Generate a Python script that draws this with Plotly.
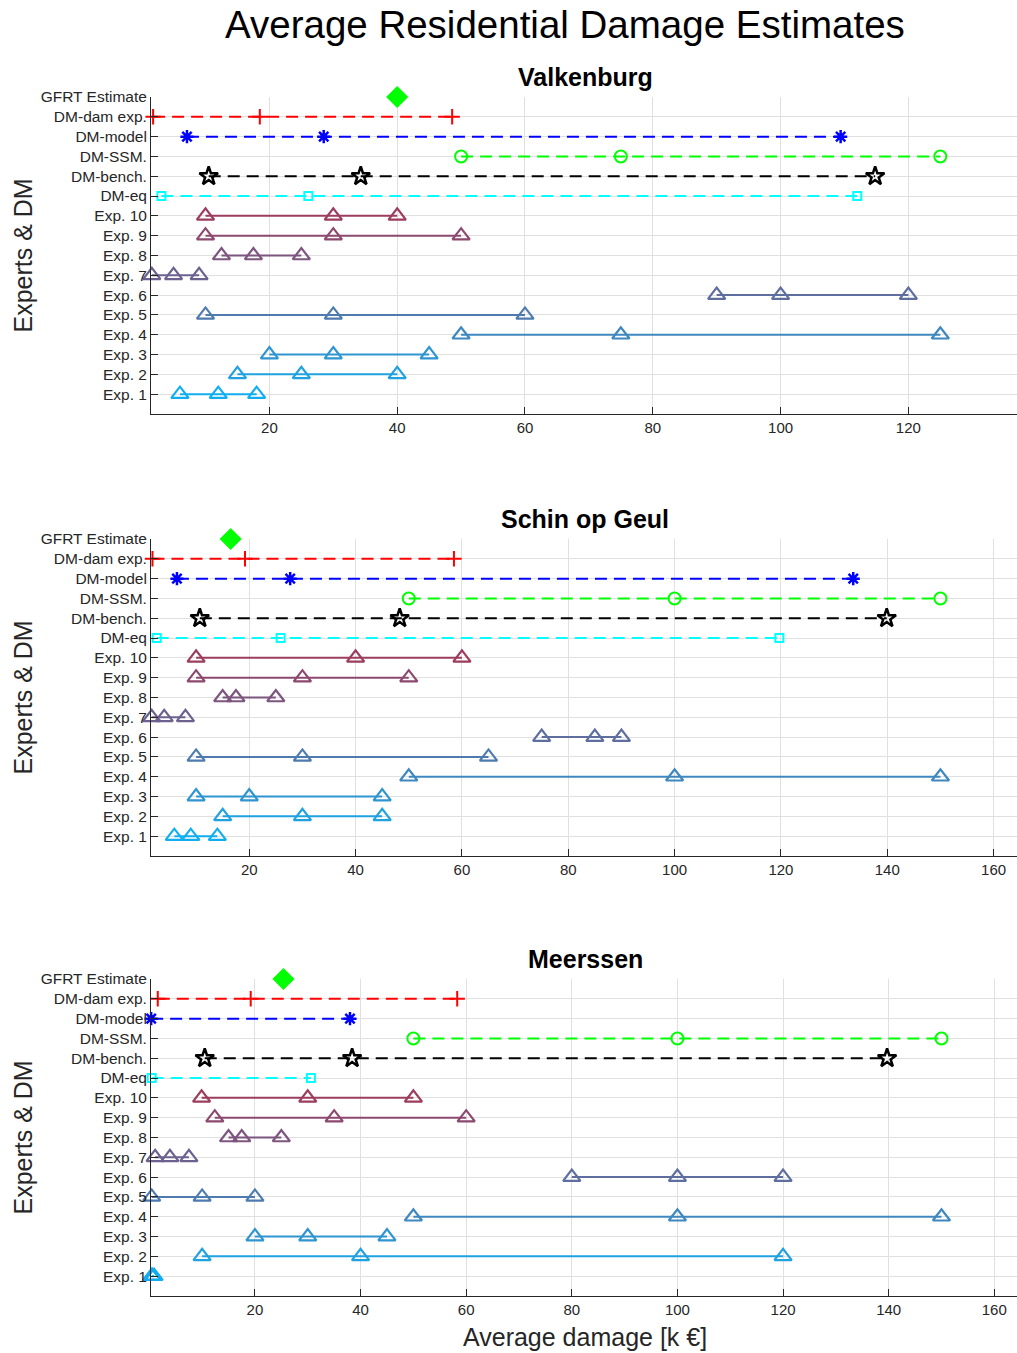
import plotly.graph_objects as go

# ---------------- data ----------------
row_labels = ["Exp. 1", "Exp. 2", "Exp. 3", "Exp. 4", "Exp. 5", "Exp. 6", "Exp. 7",
              "Exp. 8", "Exp. 9", "Exp. 10", "DM-eq", "DM-bench.", "DM-SSM.",
              "DM-model", "DM-dam exp.", "GFRT Estimate"]

locations = ["Valkenburg", "Schin op Geul", "Meerssen"]

# expert estimates (low, median, high), Exp. 1 .. Exp. 10
valk_exp = [[6, 12, 18], [15, 25, 40], [20, 30, 45], [50, 75, 125], [10, 30, 60],
            [90, 100, 120], [1.6, 5, 9], [12.5, 17.5, 25], [10, 30, 50], [10, 30, 40]]
schin_exp = [[5.9, 9, 14], [15, 30, 45], [10, 20, 45], [50, 100, 150], [10, 30, 65],
             [75, 85, 90], [1.65, 4, 8], [15, 17.5, 25], [10, 30, 50], [10, 40, 60]]
meer_exp = [[0.45, 0.6, 0.9], [10, 40, 120], [20, 30, 45], [50, 100, 150], [0.45, 10, 20],
            [80, 100, 120], [1.1, 3.9, 7.5], [15, 17.5, 25], [12.4, 35, 60], [9.9, 30, 50]]

valk_dm_eq = [3.1, 26.1, 112.0]
valk_dm_bench = [10.5, 34.3, 114.8]
valk_dm_ssm = [50, 75, 125]
valk_dm_model = [7.1, 28.5, 109.4]
valk_dm_dam = [1.8, 18.5, 48.6]
valk_gfrt = [40]

schin_dm_eq = [2.6, 25.9, 119.7]
schin_dm_bench = [10.7, 48.3, 139.9]
schin_dm_ssm = [50, 100, 150]
schin_dm_model = [6.4, 27.7, 133.6]
schin_dm_dam = [1.8, 19.2, 58.5]
schin_gfrt = [16.5]

meer_dm_eq = [0.45, 30.6]
meer_dm_bench = [10.5, 38.4, 139.7]
meer_dm_ssm = [50, 100, 150]
meer_dm_model = [0.35, 38.0]
meer_dm_dam = [1.6, 19.2, 58.3]
meer_gfrt = [25.4]

x_ranges = [[1.47, 137.0], [1.52, 164.4], [0.32, 164.3]]
x_ticks = [[20, 40, 60, 80, 100, 120], [20, 40, 60, 80, 100, 120, 140, 160],
           [20, 40, 60, 80, 100, 120, 140, 160]]

all_exp = [valk_exp, schin_exp, meer_exp]
all_dm = [
    [valk_dm_eq, valk_dm_bench, valk_dm_ssm, valk_dm_model, valk_dm_dam],
    [schin_dm_eq, schin_dm_bench, schin_dm_ssm, schin_dm_model, schin_dm_dam],
    [meer_dm_eq, meer_dm_bench, meer_dm_ssm, meer_dm_model, meer_dm_dam],
]
all_gfrt = [valk_gfrt, schin_gfrt, meer_gfrt]

# ---------------- styles ----------------
exp_colors = ["#10aef0", "#20a1e0", "#2f95d0", "#3f88bf", "#4e7baf", "#5e6f9f",
              "#6d628f", "#7d557f", "#8c486e", "#9c3c5e"]
dm_styles = [  # (color, symbol, size, marker line width)
    ("#00ffff", "square-open", 8, 2),
    ("#000000", "star-open", 14, 2.5),
    ("#00ff00", "circle-open", 12, 2),
    ("#0000ff", "asterisk-open", 11, 2.5),
    ("#ff0000", "cross-thin-open", 11, 2),
]

W, H = 1017, 1353
FONT = "Liberation Sans, Arial, Helvetica, sans-serif"
AX_LEFT = 151
ax_px = [(97, 414), (539, 856), (979, 1296)]  # top, bottom in pixels

fig = go.Figure()

for i in range(3):
    xa = "x" if i == 0 else f"x{i+1}"
    ya = "y" if i == 0 else f"y{i+1}"
    # experts
    for k, vals in enumerate(all_exp[i]):
        fig.add_trace(go.Scatter(
            x=vals, y=[row_labels[k]] * len(vals), xaxis=xa, yaxis=ya,
            mode="lines+markers", cliponaxis=False,
            line=dict(color=exp_colors[k], width=2),
            marker=dict(symbol="triangle-up-open", size=15, color=exp_colors[k],
                        line=dict(width=2.2, color=exp_colors[k])),
            showlegend=False))
    # decision makers
    for k, vals in enumerate(all_dm[i]):
        c, sym, sz, lw = dm_styles[k]
        fig.add_trace(go.Scatter(
            x=vals, y=[row_labels[10 + k]] * len(vals), xaxis=xa, yaxis=ya,
            mode="lines+markers", cliponaxis=False,
            line=dict(color=c, width=2, dash="12px,7px"),
            marker=dict(symbol=sym, size=sz, color=c, line=dict(width=lw, color=c)),
            showlegend=False))
    # GFRT
    fig.add_trace(go.Scatter(
        x=all_gfrt[i], y=[row_labels[15]] * len(all_gfrt[i]), xaxis=xa, yaxis=ya,
        mode="markers", cliponaxis=False,
        marker=dict(symbol="diamond", size=17, color="#00ff00",
                    line=dict(width=0)),
        showlegend=False))

layout = dict(
    width=W, height=H,
    margin=dict(l=0, r=0, t=0, b=0),
    paper_bgcolor="white", plot_bgcolor="white",
    font=dict(family=FONT, color="#262626"),
    showlegend=False,
)

for i in range(3):
    top, bot = ax_px[i]
    xkey = "xaxis" if i == 0 else f"xaxis{i+1}"
    ykey = "yaxis" if i == 0 else f"yaxis{i+1}"
    ya = "y" if i == 0 else f"y{i+1}"
    xa = "x" if i == 0 else f"x{i+1}"
    layout[xkey] = dict(
        domain=[AX_LEFT / W, 1.0], anchor=ya, range=x_ranges[i],
        tickvals=x_ticks[i], ticks="inside", ticklen=7, tickcolor="#262626",
        showline=True, linecolor="#262626", linewidth=1, mirror=False,
        showgrid=True, gridcolor="#e0e0e0", gridwidth=1, zeroline=False,
        tickfont=dict(size=15, family=FONT, color="#262626"), automargin=False,
    )
    layout[ykey] = dict(
        domain=[1 - bot / H, 1 - top / H], anchor=xa,
        type="category", categoryorder="array", categoryarray=row_labels,
        range=[-1, 15], tickvals=row_labels, ticks="inside", ticklen=7,
        tickcolor="#262626", showline=True, linecolor="#262626", linewidth=1,
        showgrid=True, gridcolor="#e0e0e0", gridwidth=1, zeroline=False,
        tickfont=dict(size=15.5, family=FONT, color="#262626"), automargin=False,
        ticklabelstandoff=0,
    )

fig.update_layout(**layout)

ann = []
ann.append(dict(text="Average Residential Damage Estimates", x=565 / W, y=1 - 25 / H,
                xref="paper", yref="paper", showarrow=False, xanchor="center",
                yanchor="middle", font=dict(size=38.5, family=FONT, color="black")))
title_y = [77, 519, 959]
for i in range(3):
    ann.append(dict(text="<b>" + locations[i] + "</b>", x=585 / W, y=1 - title_y[i] / H,
                    xref="paper", yref="paper", showarrow=False, xanchor="center",
                    yanchor="middle", font=dict(size=25, family=FONT, color="black")))
    top, bot = ax_px[i]
    ann.append(dict(text="Experts & DM", x=22 / W, y=1 - ((top + bot) / 2) / H,
                    xref="paper", yref="paper", showarrow=False, textangle=-90,
                    xanchor="center", yanchor="middle",
                    font=dict(size=25, family=FONT, color="#262626")))
ann.append(dict(text="Average damage [k €]", x=585 / W, y=1 - 1337 / H,
                xref="paper", yref="paper", showarrow=False, xanchor="center",
                yanchor="middle", font=dict(size=25, family=FONT, color="#262626")))
fig.update_layout(annotations=ann)

fig.write_html("out.html")
